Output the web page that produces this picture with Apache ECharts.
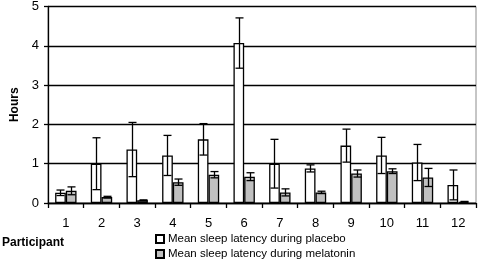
<!DOCTYPE html>
<html style="height: 100%">
<head>
	<meta charset="utf-8">
</head>
<body style="height: 100%; margin: 0; background: #fff">
<div id="container" style="width: 480px; height: 264px"></div>
<script type="text/javascript" src="https://cdn.jsdelivr.net/npm/echarts@6/dist/echarts.min.js"></script>
<script type="text/javascript">
    var participants = ['1', '2', '3', '4', '5', '6', '7', '8', '9', '10', '11', '12'];
    var placebo = [0.26, 1.0, 1.36, 1.21, 1.62, 4.07, 1.0, 0.88, 1.46, 1.21, 1.03, 0.46];
    var placeboErr = [0.07, 0.66, 0.69, 0.51, 0.4, 0.64, 0.62, 0.09, 0.42, 0.46, 0.46, 0.38];
    var melatonin = [0.31, 0.15, 0.07, 0.53, 0.72, 0.67, 0.27, 0.27, 0.75, 0.81, 0.65, 0.03];
    var melatoninErr = [0.1, 0.02, 0.01, 0.08, 0.08, 0.1, 0.09, 0.03, 0.09, 0.06, 0.23, 0.01];
    var yTicks = [0, 1, 2, 3, 4, 5];

    var font = 'Liberation Sans, Arial, sans-serif';
    var dom = document.getElementById("container");
    var myChart = echarts.init(dom);

    // error bar, shift = -1 left bar, +1 right bar
    function errorSeries(vals, errs, shift) {
        return {
            type: 'custom',
            z: 5,
            silent: true,
            data: vals.map(function (v, i) { return [i, v - errs[i], v + errs[i]]; }),
            renderItem: function (params, api) {
                var band = api.size([1, 0])[0];
                var lo = api.coord([api.value(0), api.value(1)]);
                var hi = api.coord([api.value(0), api.value(2)]);
                var x = Math.round(lo[0] + shift * band * 0.15) + 0.5;
                var cap = 4;
                var style = { stroke: '#000', lineWidth: 1.3 };
                return {
                    type: 'group',
                    children: [
                        { type: 'line', shape: { x1: x, y1: hi[1], x2: x, y2: lo[1] }, style: style },
                        { type: 'line', shape: { x1: x - cap, y1: hi[1], x2: x + cap, y2: hi[1] }, style: style },
                        { type: 'line', shape: { x1: x - cap, y1: lo[1], x2: x + cap, y2: lo[1] }, style: style }
                    ]
                };
            }
        };
    }

    var option = {
        backgroundColor: '#fff',
        animation: false,
        textStyle: { fontFamily: font },
        grid: { left: 48, right: 4, top: 5, bottom: 61, show: true, borderColor: '#8c8c8c', borderWidth: 1 },
        legend: {
            orient: 'vertical',
            left: 155,
            top: 233,
            padding: 0,
            itemWidth: 8,
            itemHeight: 8,
            itemGap: 3,
            icon: 'rect',
            textStyle: { fontFamily: font, fontSize: 11.5, color: '#000', padding: [0, 0, 0, -1] },
            data: ['Mean sleep latency during placebo', 'Mean sleep latency during melatonin']
        },
        xAxis: {
            type: 'category',
            data: participants,
            axisLine: { lineStyle: { color: '#000', width: 1.3 } },
            axisTick: { show: true, length: 5, lineStyle: { color: '#000', width: 1.3 } },
            axisLabel: { color: '#000', fontSize: 13, margin: 14, fontFamily: font }
        },
        yAxis: {
            type: 'value',
            min: 0,
            max: 5,
            interval: 1,
            name: 'Hours',
            nameLocation: 'middle',
            nameGap: 27,
            nameTextStyle: { fontWeight: 'bold', fontSize: 12, color: '#000', fontFamily: font },
            axisLine: { show: true, lineStyle: { color: '#000', width: 1.3 } },
            axisTick: { show: true, length: 4, lineStyle: { color: '#000', width: 1.3 } },
            axisLabel: {
                color: '#000', fontSize: 13, margin: 9, fontFamily: font,
                formatter: function (v) { return yTicks.indexOf(v) >= 0 ? String(v) : ''; }
            },
            splitLine: { show: true, lineStyle: { color: '#000', width: 1.3 } }
        },
        graphic: [{
            type: 'text',
            left: 2,
            top: 237,
            style: { text: 'Participant', fontWeight: 'bold', fontSize: 12, fill: '#000', fontFamily: font }
        }],
        series: [{
            name: 'Mean sleep latency during placebo',
            type: 'bar',
            data: placebo,
            barWidth: '30%',
            barGap: '0%',
            itemStyle: { color: '#fff', borderColor: '#000', borderWidth: 1.3 }
        }, {
            name: 'Mean sleep latency during melatonin',
            type: 'bar',
            data: melatonin,
            barWidth: '30%',
            barGap: '0%',
            itemStyle: { color: '#c0c0c0', borderColor: '#000', borderWidth: 1.3 }
        },
            errorSeries(placebo, placeboErr, -1),
            errorSeries(melatonin, melatoninErr, 1)
        ]
    };

    myChart.setOption(option, true);
</script>
</body>
</html>
